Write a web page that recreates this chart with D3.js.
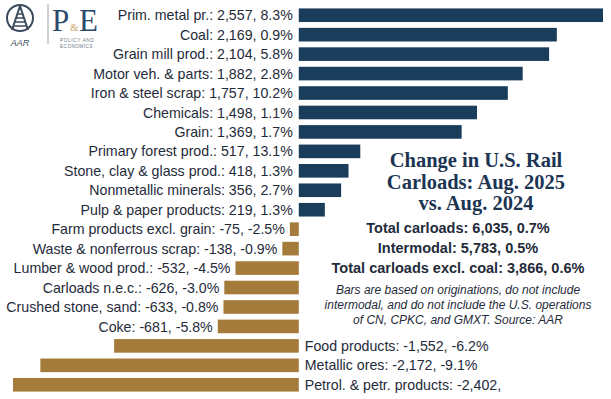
<!DOCTYPE html>
<html>
<head>
<meta charset="utf-8">
<script src="https://cdn.jsdelivr.net/npm/d3@7"></script>
<style>
  html, body { margin: 0; padding: 0; background: #ffffff; }
  svg { display: block; }
</style>
</head>
<body>
<svg id="chart" width="611" height="399"></svg>
<script>
const categories = [
  "Prim. metal pr.", "Coal", "Grain mill prod.", "Motor veh. & parts",
  "Iron & steel scrap", "Chemicals", "Grain", "Primary forest prod.",
  "Stone, clay & glass prod.", "Nonmetallic minerals", "Pulp & paper products",
  "Farm products excl. grain", "Waste & nonferrous scrap", "Lumber & wood prod.",
  "Carloads n.e.c.", "Crushed stone, sand", "Coke", "Food products",
  "Metallic ores", "Petrol. & petr. products"
];
const values = [2557, 2169, 2104, 1882, 1757, 1498, 1369, 517, 418, 356, 219,
  -75, -138, -532, -626, -633, -681, -1552, -2172, -2402];
const pcts = [8.3, 0.9, 5.8, 2.8, 10.2, 1.1, 1.7, 13.1, 1.3, 2.7, 1.3,
  -2.5, -0.9, -4.5, -3.0, -0.8, -5.8, -6.2, -9.1, null];

const titleLines = ["Change in U.S. Rail", "Carloads: Aug. 2025", "vs. Aug. 2024"];
const statLines = ["Total carloads: 6,035, 0.7%", "Intermodal: 5,783, 0.5%", "Total carloads excl. coal: 3,866, 0.6%"];
const noteLines = ["Bars are based on originations, do not include",
  "intermodal, and do not include the U.S. operations",
  "of CN, CPKC, and GMXT. Source: AAR"];

const NAVY = "#1a3d5c", GOLD = "#a47b3b", TEXT = "#1f2b3a";
const svg = d3.select("#chart");
const locale = d3.formatLocale({ decimal: ".", thousands: ",", grouping: [3], currency: ["$", ""], minus: "-" });
const fmt = locale.format(",");
const fmtP = locale.format(".1f");

const x = d3.scaleLinear().domain([-2402, 2557]).range([13, 603]);
const y = d3.scaleBand().domain(categories).range([5.5, 394.5]).paddingInner(0.3).paddingOuter(0.15);

const data = categories.map((c, i) => ({ c, v: values[i], p: pcts[i] }));
const label = d => `${d.c}: ${fmt(d.v)},` + (d.p === null ? "" : ` ${fmtP(d.p)}%`);

svg.append("g").selectAll("rect").data(data).join("rect")
  .attr("x", d => x(Math.min(0, d.v)))
  .attr("width", d => Math.abs(x(d.v) - x(0)))
  .attr("y", d => y(d.c))
  .attr("height", y.bandwidth())
  .attr("fill", d => d.v >= 0 ? NAVY : GOLD);

svg.append("g").selectAll("text").data(data).join("text")
  .attr("x", d => d.v >= 0 ? x(0) - 6 : (d.v < -1000 ? x(0) + 6 : x(d.v) - 5))
  .attr("y", d => y(d.c) + y.bandwidth() / 2)
  .attr("dy", "0.36em")
  .attr("text-anchor", d => (d.v < -1000) ? "start" : "end")
  .attr("font-family", "Liberation Sans, Arial, sans-serif")
  .attr("font-size", 14.2)
  .attr("fill", TEXT)
  .text(label);

// Title block
svg.append("g").selectAll("text").data(titleLines).join("text")
  .attr("x", 476).attr("y", (d, i) => 167 + i * 21.5)
  .attr("text-anchor", "middle")
  .attr("font-family", "Liberation Serif, Times New Roman, serif")
  .attr("font-weight", "bold").attr("font-size", 20.5)
  .attr("fill", "#1c3553").text(d => d);

svg.append("g").selectAll("text").data(statLines).join("text")
  .attr("x", 458).attr("y", (d, i) => 233 + i * 20)
  .attr("text-anchor", "middle")
  .attr("font-family", "Liberation Sans, Arial, sans-serif")
  .attr("font-weight", "bold").attr("font-size", 14.5)
  .attr("fill", TEXT).text(d => d);

svg.append("g").selectAll("text").data(noteLines).join("text")
  .attr("x", 458).attr("y", (d, i) => 294 + i * 15)
  .attr("text-anchor", "middle")
  .attr("font-family", "Liberation Sans, Arial, sans-serif")
  .attr("font-style", "italic").attr("font-size", 12)
  .attr("fill", TEXT).text(d => d);

// Logo
const logo = svg.append("g");
logo.append("circle").attr("cx", 20).attr("cy", 18).attr("r", 13)
  .attr("fill", "none").attr("stroke", "#3a4a5c").attr("stroke-width", 2);
logo.append("path").attr("d", "M20,6 L12,30 M20,6 L28,30")
  .attr("stroke", "#3a4a5c").attr("stroke-width", 2).attr("fill", "none");
[14, 18, 22, 26].forEach(t => {
  const hw = (t - 6) / 3;
  logo.append("line").attr("x1", 20 - hw).attr("x2", 20 + hw).attr("y1", t).attr("y2", t)
    .attr("stroke", "#3a4a5c").attr("stroke-width", 1.5);
});
logo.append("text").attr("x", 20).attr("y", 46).attr("text-anchor", "middle")
  .attr("font-family", "Liberation Sans, Arial, sans-serif").attr("font-style", "italic")
  .attr("font-size", 9).attr("fill", "#3a4a5c").text("AAR");
logo.append("line").attr("x1", 48).attr("x2", 48).attr("y1", 4).attr("y2", 44)
  .attr("stroke", "#9aa3ad").attr("stroke-width", 1);
const pe = logo.append("text")
  .attr("font-family", "Liberation Serif, Times New Roman, serif").attr("fill", "#2b4a6b");
pe.append("tspan").attr("x", 52).attr("y", 31).attr("font-size", 31).text("P");
pe.append("tspan").attr("x", 70).attr("y", 31).attr("font-size", 11)
  .attr("fill", "#c9a56a").text("&");
pe.append("tspan").attr("x", 79).attr("y", 31).attr("font-size", 31).text("E");
pe.append("tspan").attr("x", 60).attr("y", 42).attr("font-size", 4.6)
  .attr("font-family", "Liberation Sans, Arial, sans-serif").attr("letter-spacing", 0.7)
  .attr("fill", "#6a7785").text("POLICY AND");
pe.append("tspan").attr("x", 60).attr("y", 47.5).attr("font-size", 4.6)
  .attr("font-family", "Liberation Sans, Arial, sans-serif").attr("letter-spacing", 0.5)
  .attr("fill", "#6a7785").text("ECONOMICS");
</script>
</body>
</html>
